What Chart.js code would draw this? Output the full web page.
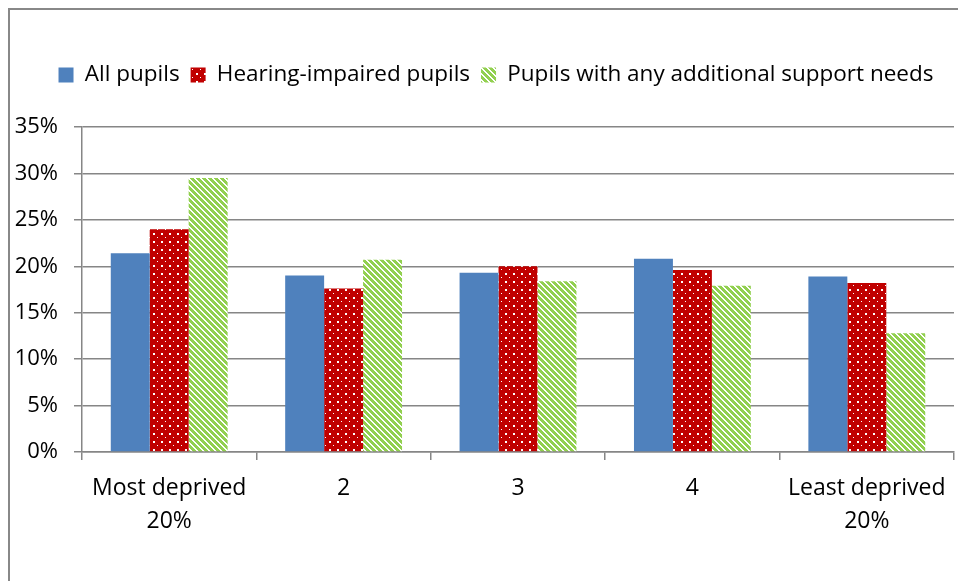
<!DOCTYPE html>
<html>
<head>
<meta charset="utf-8">
<script src="https://cdn.jsdelivr.net/npm/chart.js@4.4.0/dist/chart.umd.min.js"></script>
<style>
  html, body { margin: 0; padding: 0; background: #ffffff; }
  #wrap { width: 958px; height: 581px; position: relative; }
</style>
</head>
<body>
<div id="wrap"><canvas id="c" width="958" height="581"></canvas></div>
<script>
const categories = [['Most deprived', '20%'], '2', '3', '4', ['Least deprived', '20%']];
const seriesNames = ['All pupils', 'Hearing-impaired pupils', 'Pupils with any additional support needs'];
const allPupils = [21.4, 19.0, 19.3, 20.8, 18.9];
const hearingImpaired = [24.0, 17.6, 20.0, 19.6, 18.2];
const additionalNeeds = [29.5, 20.7, 18.4, 17.9, 12.8];
const yTicks = [0, 5, 10, 15, 20, 25, 30, 35];

function dotPattern(bg, fg) {
  const c = document.createElement('canvas');
  c.width = 8; c.height = 8;
  const x = c.getContext('2d');
  x.fillStyle = bg; x.fillRect(0, 0, 8, 8);
  x.fillStyle = fg;
  x.fillRect(1, 1, 2, 2);
  x.fillRect(5, 5, 1, 1);
  return x.createPattern(c, 'repeat');
}
function diagPattern(bg, fg) {
  const n = 6;
  const c = document.createElement('canvas');
  c.width = n; c.height = n;
  const x = c.getContext('2d');
  x.fillStyle = bg; x.fillRect(0, 0, n, n);
  x.fillStyle = fg;
  for (let yy = 0; yy < n; yy++) {
    for (let xx = 0; xx < n; xx++) {
      if (((xx - yy) % n + n) % n < 4) x.fillRect(xx, yy, 1, 1);
    }
  }
  return x.createPattern(c, 'repeat');
}

const FONT = '"Open Sans", Lato, sans-serif';
const GRID = '#868686';

const frame = {
  id: 'frame',
  beforeInit(chart) {
    const lg = chart.legend;
    if (lg) {
      const origFit = lg.fit;
      lg.fit = function () { origFit.call(this); this.height += 30.75; };
      const origDraw = lg.draw;
      lg.draw = function () {
        const ctx = this.ctx;
        ctx.save();
        ctx.translate(19, 0);
        origDraw.call(this);
        ctx.restore();
      };
    }
  },
  beforeDraw(chart) {
    const ctx = chart.ctx;
    ctx.save();
    ctx.fillStyle = '#ffffff';
    ctx.fillRect(0, 0, chart.width, chart.height);
    ctx.strokeStyle = '#888888';
    ctx.lineWidth = 2;
    ctx.beginPath();
    ctx.moveTo(9, chart.height);
    ctx.lineTo(9, 9);
    ctx.lineTo(chart.width, 9);
    ctx.stroke();
    ctx.restore();
  }
};

new Chart(document.getElementById('c'), {
  type: 'bar',
  data: {
    labels: categories,
    datasets: [
      { label: seriesNames[0], data: allPupils, backgroundColor: '#4F81BD' },
      { label: seriesNames[1], data: hearingImpaired, backgroundColor: dotPattern('#C00000', '#ffffff') },
      { label: seriesNames[2], data: additionalNeeds, backgroundColor: diagPattern('#ffffff', '#92D050') }
    ]
  },
  options: {
    responsive: false,
    animation: false,
    devicePixelRatio: 1,
    layout: { padding: { top: 52.75, left: 0, right: 4, bottom: 0 } },
    datasets: { bar: { categoryPercentage: 0.67, barPercentage: 1.0, borderWidth: 0 } },
    plugins: {
      legend: {
        position: 'top',
        align: 'center',
        labels: {
          boxWidth: 15, boxHeight: 15, padding: 11,
          color: '#000000',
          font: { family: FONT, size: 22.5 }
        }
      },
      tooltip: { enabled: false }
    },
    scales: {
      x: {
        offset: true,
        grid: { offset: true, drawOnChartArea: false, drawTicks: true, tickLength: 8, color: GRID, lineWidth: 1.5 },
        border: { display: true, color: GRID, width: 1.5 },
        ticks: { color: '#000000', font: { family: FONT, size: 23, lineHeight: 1.435 }, padding: 11.5, maxRotation: 0, autoSkip: false },
        afterFit(s) { s.height = 129; }
      },
      y: {
        min: 0, max: 35,
        afterBuildTicks(s) { s.ticks = yTicks.map(v => ({ value: v })); },
        grid: { color: GRID, lineWidth: 1.5, tickLength: 8, drawTicks: true },
        border: { display: true, color: GRID, width: 1.5 },
        ticks: { color: '#000000', font: { family: FONT, size: 22 }, padding: 16, callback: v => v + '%' },
        afterFit(s) { s.width = 82; }
      }
    }
  },
  plugins: [frame]
});
</script>
</body>
</html>
